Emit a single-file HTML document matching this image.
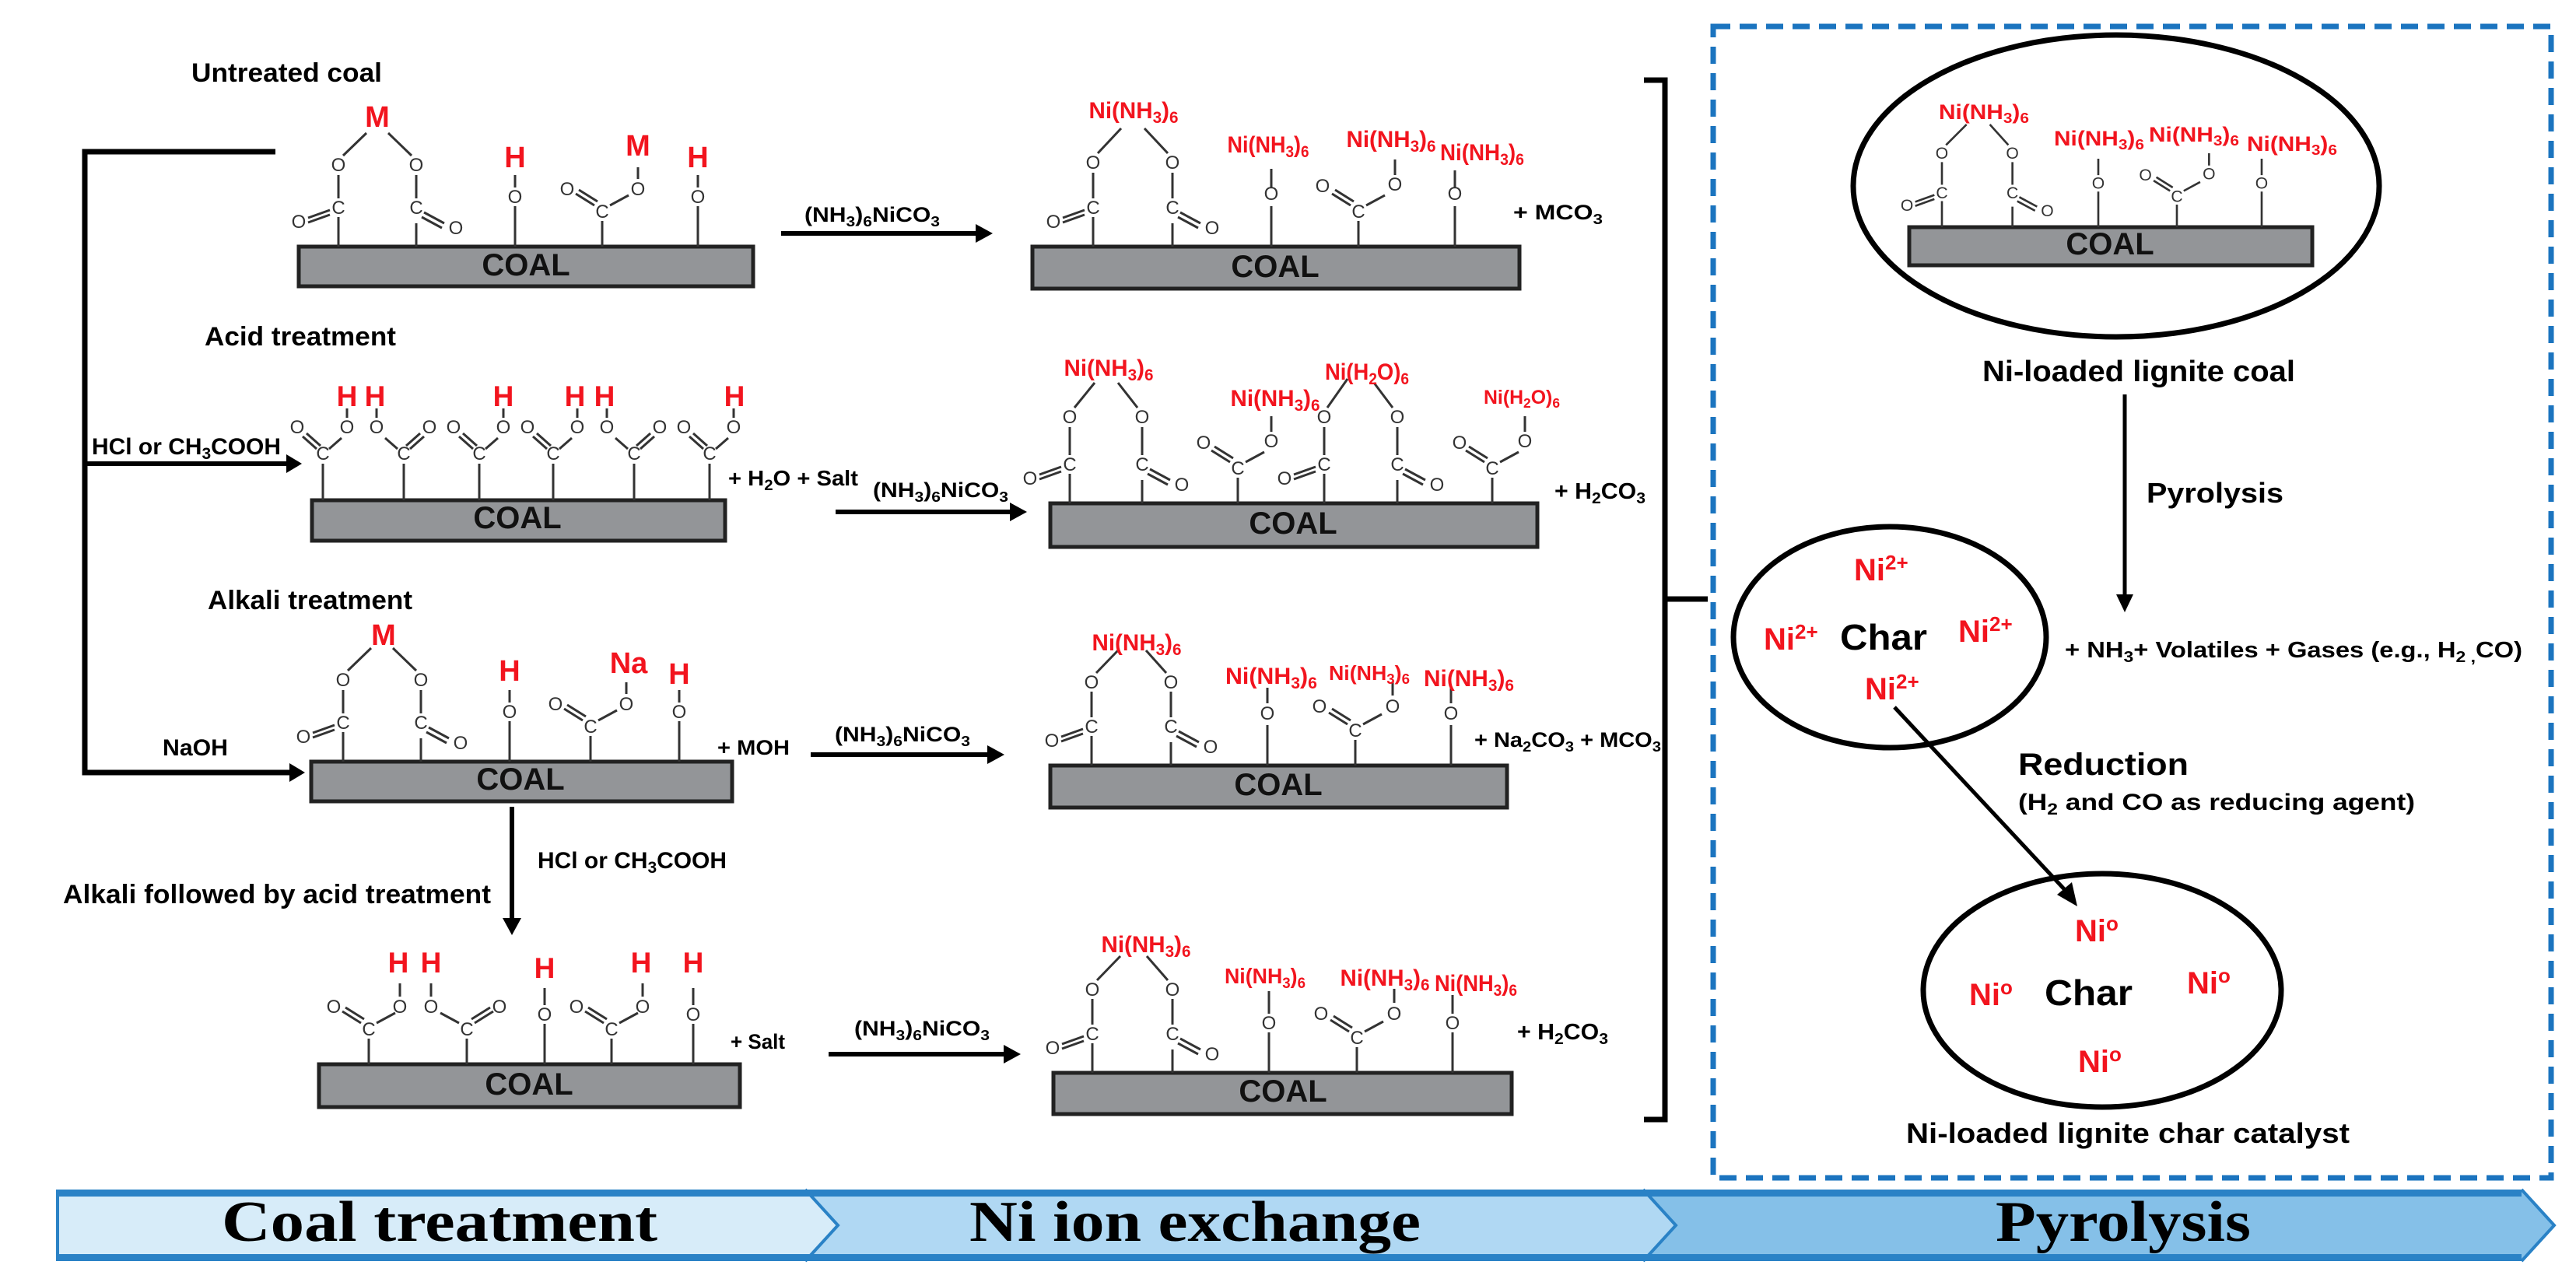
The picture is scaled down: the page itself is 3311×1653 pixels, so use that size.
<!DOCTYPE html>
<html><head><meta charset="utf-8"><style>
html,body{margin:0;padding:0;background:#fff}
svg{display:block}
.f{font-family:"Liberation Sans",sans-serif}
.b{font-family:"Liberation Sans",sans-serif;font-weight:bold}
.oc{font-family:"Liberation Sans",sans-serif;font-size:24px;fill:#333;text-anchor:middle}
.r{fill:#f2141e;font-family:"Liberation Sans",sans-serif;font-weight:bold;text-anchor:middle}
.s{font-size:70%}
.ln{stroke:#333;stroke-width:3;fill:none}
.bar{fill:#939598;stroke:#222;stroke-width:5}
.coal{font-family:"Liberation Sans",sans-serif;font-weight:bold;font-size:40px;text-anchor:middle;fill:#111}
.ser{font-family:"Liberation Serif",serif;font-weight:bold;font-size:74px;fill:#000}
</style></head><body>
<svg width="3311" height="1653" viewBox="0 0 3311 1653" xmlns="http://www.w3.org/2000/svg">
<rect width="3311" height="1653" fill="#fff"/>

<!-- ===== LEFT BRACKET & ARROWS ===== -->
<path d="M354 195H109V993H375" stroke="#000" stroke-width="7" fill="none"/>
<polygon points="392,993 372,981 372,1005" fill="#000"/>
<path d="M109 596H370" stroke="#000" stroke-width="6" fill="none"/>
<polygon points="388,596 368,584 368,608" fill="#000"/>
<path d="M658 1037V1182" stroke="#000" stroke-width="6"/>
<polygon points="658,1202 646,1180 670,1180" fill="#000"/>

<!-- left labels -->
<text class="b" x="246" y="105" font-size="34" textLength="245" lengthAdjust="spacingAndGlyphs">Untreated coal</text>
<text class="b" x="263" y="444" font-size="34" textLength="246" lengthAdjust="spacingAndGlyphs">Acid treatment</text>
<text class="b" x="267" y="783" font-size="34" textLength="263" lengthAdjust="spacingAndGlyphs">Alkali treatment</text>
<text class="b" x="81" y="1161" font-size="34" textLength="550" lengthAdjust="spacingAndGlyphs">Alkali followed by acid treatment</text>
<text class="b" x="118" y="584" font-size="30" textLength="243" lengthAdjust="spacingAndGlyphs">HCl or CH<tspan class="s" dy="6">3</tspan><tspan dy="-6">COOH</tspan></text>
<text class="b" x="209" y="971" font-size="30" textLength="84" lengthAdjust="spacingAndGlyphs">NaOH</text>
<text class="b" x="691" y="1116" font-size="30" textLength="243" lengthAdjust="spacingAndGlyphs">HCl or CH<tspan class="s" dy="6">3</tspan><tspan dy="-6">COOH</tspan></text>

<!-- ===== ROW 1 LEFT ===== -->
<rect class="bar" x="384" y="317" width="584" height="51"/>
<text class="coal" x="676" y="354">COAL</text>
<g transform="translate(435,317)"><path class="ln" d="M0 0V-38M0 -62V-92M6 -117L36 -146M100 0V-30M100 -62V-92M94 -117L64 -146M-11 -47L-39 -37M-11 -41L-39 -31M110 -44L136 -30M107 -38L133 -24"/><text class="oc" x="0" y="-42">C</text><text class="oc" x="100" y="-42">C</text><text class="oc" x="0" y="-97">O</text><text class="oc" x="100" y="-97">O</text><text class="oc" x="-51" y="-24">O</text><text class="oc" x="151" y="-16">O</text></g>
<text class="r" x="485" y="163" font-size="38">M</text>
<g transform="translate(662,317)"><path class="ln" d="M0 0V-52M0 -76V-92"/><text class="oc" x="0" y="-56">O</text></g>
<text class="r" x="662" y="215" font-size="38">H</text>
<g transform="translate(774,317)"><path class="ln" d="M0 0V-33M-10 -53L-34 -68M-6 -58L-30 -73M10 -53L34 -66M46 -87V-102"/><text class="oc" x="0" y="-37">C</text><text class="oc" x="-45" y="-66">O</text><text class="oc" x="46" y="-66">O</text></g>
<text class="r" x="820" y="200" font-size="38">M</text>
<g transform="translate(897,317)"><path class="ln" d="M0 0V-52M0 -76V-92"/><text class="oc" x="0" y="-56">O</text></g>
<text class="r" x="897" y="215" font-size="38">H</text>

<!-- ===== ROW 2 LEFT (acid) ===== -->
<rect class="bar" x="401" y="643" width="531" height="52"/>
<text class="coal" x="665" y="679">COAL</text>
<g transform="translate(415,643)"><path class="ln" d="M0 0V-47M-8 -66L-26 -82M-3 -70L-21 -86M8 -66L24 -80M31 -106V-118"/><text class="oc" x="0" y="-52" font-size="21">C</text><text class="oc" x="-33" y="-86">O</text><text class="oc" x="31" y="-86">O</text></g>
<text class="r" x="446" y="522" font-size="37">H</text>
<g transform="translate(519,643)"><path class="ln" d="M0 0V-47M8 -66L26 -82M3 -70L21 -86M-8 -66L-24 -80M-35 -106V-118"/><text class="oc" x="0" y="-52" font-size="21">C</text><text class="oc" x="33" y="-86">O</text><text class="oc" x="-35" y="-86">O</text></g>
<text class="r" x="482" y="522" font-size="37">H</text>
<g transform="translate(616,643)"><path class="ln" d="M0 0V-47M-8 -66L-26 -82M-3 -70L-21 -86M8 -66L24 -80M31 -106V-118"/><text class="oc" x="0" y="-52" font-size="21">C</text><text class="oc" x="-33" y="-86">O</text><text class="oc" x="31" y="-86">O</text></g>
<text class="r" x="647" y="522" font-size="37">H</text>
<g transform="translate(711,643)"><path class="ln" d="M0 0V-47M-8 -66L-26 -82M-3 -70L-21 -86M8 -66L24 -80M31 -106V-118"/><text class="oc" x="0" y="-52" font-size="21">C</text><text class="oc" x="-33" y="-86">O</text><text class="oc" x="31" y="-86">O</text></g>
<text class="r" x="739" y="522" font-size="37">H</text>
<g transform="translate(815,643)"><path class="ln" d="M0 0V-47M8 -66L26 -82M3 -70L21 -86M-8 -66L-24 -80M-35 -106V-118"/><text class="oc" x="0" y="-52" font-size="21">C</text><text class="oc" x="33" y="-86">O</text><text class="oc" x="-35" y="-86">O</text></g>
<text class="r" x="777" y="522" font-size="37">H</text>
<g transform="translate(912,643)"><path class="ln" d="M0 0V-47M-8 -66L-26 -82M-3 -70L-21 -86M8 -66L24 -80M31 -106V-118"/><text class="oc" x="0" y="-52" font-size="21">C</text><text class="oc" x="-33" y="-86">O</text><text class="oc" x="31" y="-86">O</text></g>
<text class="r" x="944" y="522" font-size="37">H</text>
<text class="b" x="936" y="624" font-size="28" textLength="167" lengthAdjust="spacingAndGlyphs">+ H<tspan class="s" dy="6">2</tspan><tspan dy="-6">O  + Salt</tspan></text>

<!-- ===== ROW 3 LEFT (alkali) ===== -->
<rect class="bar" x="400" y="979" width="541" height="51"/>
<text class="coal" x="669" y="1015">COAL</text>
<g transform="translate(441,979)"><path class="ln" d="M0 0V-38M0 -62V-92M6 -117L36 -146M100 0V-30M100 -62V-92M94 -117L64 -146M-11 -47L-39 -37M-11 -41L-39 -31M110 -44L136 -30M107 -38L133 -24"/><text class="oc" x="0" y="-42">C</text><text class="oc" x="100" y="-42">C</text><text class="oc" x="0" y="-97">O</text><text class="oc" x="100" y="-97">O</text><text class="oc" x="-51" y="-24">O</text><text class="oc" x="151" y="-16">O</text></g>
<text class="r" x="493" y="829" font-size="38">M</text>
<g transform="translate(655,979)"><path class="ln" d="M0 0V-52M0 -76V-92"/><text class="oc" x="0" y="-56">O</text></g>
<text class="r" x="655" y="875" font-size="38">H</text>
<g transform="translate(759,979)"><path class="ln" d="M0 0V-33M-10 -53L-34 -68M-6 -58L-30 -73M10 -53L34 -66M46 -87V-102"/><text class="oc" x="0" y="-37">C</text><text class="oc" x="-45" y="-66">O</text><text class="oc" x="46" y="-66">O</text></g>
<text class="r" x="808" y="865" font-size="38">Na</text>
<g transform="translate(873,979)"><path class="ln" d="M0 0V-52M0 -76V-92"/><text class="oc" x="0" y="-56">O</text></g>
<text class="r" x="873" y="879" font-size="38">H</text>
<text class="b" x="922" y="970" font-size="27" textLength="93" lengthAdjust="spacingAndGlyphs">+  MOH</text>

<!-- ===== ROW 4 LEFT ===== -->
<rect class="bar" x="410" y="1368" width="541" height="55"/>
<text class="coal" x="680" y="1407">COAL</text>
<g transform="translate(474,1368)"><path class="ln" d="M0 0V-33M-10 -53L-34 -68M-6 -58L-30 -73M10 -53L34 -66M40 -87V-104"/><text class="oc" x="0" y="-37">C</text><text class="oc" x="-45" y="-66">O</text><text class="oc" x="40" y="-66">O</text></g>
<text class="r" x="512" y="1250" font-size="37">H</text>
<g transform="translate(600,1368)"><path class="ln" d="M0 0V-33M10 -53L34 -68M6 -58L30 -73M-10 -53L-34 -66M-46 -87V-104"/><text class="oc" x="0" y="-37">C</text><text class="oc" x="42" y="-66">O</text><text class="oc" x="-46" y="-66">O</text></g>
<text class="r" x="554" y="1250" font-size="37">H</text>
<g transform="translate(700,1368)"><path class="ln" d="M0 0V-52M0 -76V-98"/><text class="oc" x="0" y="-56">O</text></g>
<text class="r" x="700" y="1257" font-size="37">H</text>
<g transform="translate(786,1368)"><path class="ln" d="M0 0V-33M-10 -53L-34 -68M-6 -58L-30 -73M10 -53L34 -66M40 -87V-104"/><text class="oc" x="0" y="-37">C</text><text class="oc" x="-45" y="-66">O</text><text class="oc" x="40" y="-66">O</text></g>
<text class="r" x="824" y="1250" font-size="37">H</text>
<g transform="translate(891,1368)"><path class="ln" d="M0 0V-52M0 -76V-98"/><text class="oc" x="0" y="-56">O</text></g>
<text class="r" x="891" y="1250" font-size="37">H</text>
<text class="b" x="939" y="1348" font-size="27" textLength="70" lengthAdjust="spacingAndGlyphs">+ Salt</text>

<!-- ===== MIDDLE ARROWS ===== -->
<path d="M1004 300H1256" stroke="#000" stroke-width="6"/><polygon points="1276,300 1254,288 1254,312" fill="#000"/>
<text class="b" x="1034" y="285" font-size="27" textLength="174" lengthAdjust="spacingAndGlyphs">(NH<tspan class="s" dy="6">3</tspan><tspan dy="-6">)</tspan><tspan class="s" dy="6">6</tspan><tspan dy="-6">NiCO</tspan><tspan class="s" dy="6">3</tspan></text>
<path d="M1074 658H1300" stroke="#000" stroke-width="6"/><polygon points="1320,658 1298,646 1298,670" fill="#000"/>
<text class="b" x="1122" y="639" font-size="27" textLength="174" lengthAdjust="spacingAndGlyphs">(NH<tspan class="s" dy="6">3</tspan><tspan dy="-6">)</tspan><tspan class="s" dy="6">6</tspan><tspan dy="-6">NiCO</tspan><tspan class="s" dy="6">3</tspan></text>
<path d="M1042 970H1271" stroke="#000" stroke-width="6"/><polygon points="1291,970 1269,958 1269,982" fill="#000"/>
<text class="b" x="1073" y="953" font-size="27" textLength="174" lengthAdjust="spacingAndGlyphs">(NH<tspan class="s" dy="6">3</tspan><tspan dy="-6">)</tspan><tspan class="s" dy="6">6</tspan><tspan dy="-6">NiCO</tspan><tspan class="s" dy="6">3</tspan></text>
<path d="M1065 1355H1292" stroke="#000" stroke-width="6"/><polygon points="1312,1355 1290,1343 1290,1367" fill="#000"/>
<text class="b" x="1098" y="1331" font-size="27" textLength="174" lengthAdjust="spacingAndGlyphs">(NH<tspan class="s" dy="6">3</tspan><tspan dy="-6">)</tspan><tspan class="s" dy="6">6</tspan><tspan dy="-6">NiCO</tspan><tspan class="s" dy="6">3</tspan></text>

<!-- ===== ROW 1 MIDDLE ===== -->
<rect class="bar" x="1327" y="317" width="626" height="54"/>
<text class="coal" x="1639" y="356">COAL</text>
<g transform="translate(1405,317)"><path class="ln" d="M0 0V-38M0 -62V-95M6 -120L36 -152M102 0V-30M102 -62V-95M96 -120L66 -152M-11 -47L-39 -37M-11 -41L-39 -31M112 -44L138 -30M109 -38L135 -24"/><text class="oc" x="0" y="-42">C</text><text class="oc" x="102" y="-42">C</text><text class="oc" x="0" y="-100">O</text><text class="oc" x="102" y="-100">O</text><text class="oc" x="-51" y="-24">O</text><text class="oc" x="153" y="-16">O</text></g>
<text class="r" x="1457" y="152" font-size="30" font-weight="normal" textLength="115" lengthAdjust="spacingAndGlyphs">Ni(NH<tspan class="s" dy="6">3</tspan><tspan dy="-6">)</tspan><tspan class="s" dy="6">6</tspan></text>
<g transform="translate(1634,317)"><path class="ln" d="M0 0V-52M0 -76V-100"/><text class="oc" x="0" y="-60">O</text></g>
<text class="r" x="1630" y="196" font-size="30" textLength="105" lengthAdjust="spacingAndGlyphs">Ni(NH<tspan class="s" dy="6">3</tspan><tspan dy="-6">)</tspan><tspan class="s" dy="6">6</tspan></text>
<g transform="translate(1746,317)"><path class="ln" d="M0 0V-33M-10 -53L-34 -68M-6 -58L-30 -73M10 -53L34 -66M47 -92V-112"/><text class="oc" x="0" y="-37">C</text><text class="oc" x="-46" y="-70">O</text><text class="oc" x="47" y="-72">O</text></g>
<text class="r" x="1788" y="189" font-size="30" textLength="115" lengthAdjust="spacingAndGlyphs">Ni(NH<tspan class="s" dy="6">3</tspan><tspan dy="-6">)</tspan><tspan class="s" dy="6">6</tspan></text>
<g transform="translate(1870,317)"><path class="ln" d="M0 0V-52M0 -76V-98"/><text class="oc" x="0" y="-60">O</text></g>
<text class="r" x="1905" y="206" font-size="30" textLength="108" lengthAdjust="spacingAndGlyphs">Ni(NH<tspan class="s" dy="6">3</tspan><tspan dy="-6">)</tspan><tspan class="s" dy="6">6</tspan></text>
<text class="b" x="1945" y="282" font-size="27" textLength="115" lengthAdjust="spacingAndGlyphs">+  MCO<tspan class="s" dy="6">3</tspan></text>

<!-- ===== ROW 2 MIDDLE ===== -->
<rect class="bar" x="1350" y="647" width="626" height="56"/>
<text class="coal" x="1662" y="686">COAL</text>
<g transform="translate(1375,647)"><path class="ln" d="M0 0V-38M0 -62V-98M6 -123L32 -155M93 0V-30M93 -62V-98M87 -123L62 -155M-11 -47L-39 -37M-11 -41L-39 -31M103 -44L129 -30M100 -38L126 -24"/><text class="oc" x="0" y="-42">C</text><text class="oc" x="93" y="-42">C</text><text class="oc" x="0" y="-103">O</text><text class="oc" x="93" y="-103">O</text><text class="oc" x="-51" y="-24">O</text><text class="oc" x="144" y="-16">O</text></g>
<text class="r" x="1425" y="483" font-size="30" textLength="115" lengthAdjust="spacingAndGlyphs">Ni(NH<tspan class="s" dy="6">3</tspan><tspan dy="-6">)</tspan><tspan class="s" dy="6">6</tspan></text>
<g transform="translate(1591,647)"><path class="ln" d="M0 0V-33M-10 -53L-34 -68M-6 -58L-30 -73M10 -53L34 -66M43 -92V-112"/><text class="oc" x="0" y="-37">C</text><text class="oc" x="-44" y="-70">O</text><text class="oc" x="43" y="-72">O</text></g>
<text class="r" x="1639" y="522" font-size="30" textLength="115" lengthAdjust="spacingAndGlyphs">Ni(NH<tspan class="s" dy="6">3</tspan><tspan dy="-6">)</tspan><tspan class="s" dy="6">6</tspan></text>
<g transform="translate(1702,647)"><path class="ln" d="M0 0V-38M0 -62V-98M4 -123L30 -160M94 0V-30M94 -62V-98M88 -123L64 -155M-11 -47L-39 -37M-11 -41L-39 -31M104 -44L130 -30M101 -38L127 -24"/><text class="oc" x="0" y="-42">C</text><text class="oc" x="94" y="-42">C</text><text class="oc" x="0" y="-103">O</text><text class="oc" x="94" y="-103">O</text><text class="oc" x="-51" y="-24">O</text><text class="oc" x="145" y="-16">O</text></g>
<text class="r" x="1757" y="488" font-size="30" textLength="108" lengthAdjust="spacingAndGlyphs">Ni(H<tspan class="s" dy="6">2</tspan><tspan dy="-6">O)</tspan><tspan class="s" dy="6">6</tspan></text>
<g transform="translate(1918,647)"><path class="ln" d="M0 0V-33M-10 -53L-34 -68M-6 -58L-30 -73M10 -53L34 -66M42 -92V-112"/><text class="oc" x="0" y="-37">C</text><text class="oc" x="-42" y="-70">O</text><text class="oc" x="42" y="-72">O</text></g>
<text class="r" x="1956" y="519" font-size="25" textLength="98" lengthAdjust="spacingAndGlyphs">Ni(H<tspan class="s" dy="5">2</tspan><tspan dy="-5">O)</tspan><tspan class="s" dy="5">6</tspan></text>
<text class="b" x="1998" y="641" font-size="29" textLength="117" lengthAdjust="spacingAndGlyphs">+ H<tspan class="s" dy="6">2</tspan><tspan dy="-6">CO</tspan><tspan class="s" dy="6">3</tspan></text>

<!-- ===== ROW 3 MIDDLE ===== -->
<rect class="bar" x="1350" y="984" width="587" height="54"/>
<text class="coal" x="1643" y="1022">COAL</text>
<g transform="translate(1403,984)"><path class="ln" d="M0 0V-38M0 -62V-95M6 -119L34 -148M102 0V-30M102 -62V-95M96 -119L70 -148M-11 -47L-39 -37M-11 -41L-39 -31M112 -44L138 -30M109 -38L135 -24"/><text class="oc" x="0" y="-42">C</text><text class="oc" x="102" y="-42">C</text><text class="oc" x="0" y="-99">O</text><text class="oc" x="102" y="-99">O</text><text class="oc" x="-51" y="-24">O</text><text class="oc" x="153" y="-16">O</text></g>
<text class="r" x="1461" y="836" font-size="30" textLength="115" lengthAdjust="spacingAndGlyphs">Ni(NH<tspan class="s" dy="6">3</tspan><tspan dy="-6">)</tspan><tspan class="s" dy="6">6</tspan></text>
<g transform="translate(1629,984)"><path class="ln" d="M0 0V-52M0 -80V-100"/><text class="oc" x="0" y="-59">O</text></g>
<text class="r" x="1634" y="879" font-size="30" textLength="118" lengthAdjust="spacingAndGlyphs">Ni(NH<tspan class="s" dy="6">3</tspan><tspan dy="-6">)</tspan><tspan class="s" dy="6">6</tspan></text>
<g transform="translate(1742,984)"><path class="ln" d="M0 0V-33M-10 -53L-34 -68M-6 -58L-30 -73M10 -53L34 -66M48 -90V-108"/><text class="oc" x="0" y="-37">C</text><text class="oc" x="-46" y="-68">O</text><text class="oc" x="48" y="-68">O</text></g>
<text class="r" x="1760" y="874" font-size="26" textLength="104" lengthAdjust="spacingAndGlyphs">Ni(NH<tspan class="s" dy="5">3</tspan><tspan dy="-5">)</tspan><tspan class="s" dy="5">6</tspan></text>
<g transform="translate(1865,984)"><path class="ln" d="M0 0V-52M0 -80V-100"/><text class="oc" x="0" y="-59">O</text></g>
<text class="r" x="1888" y="882" font-size="30" textLength="116" lengthAdjust="spacingAndGlyphs">Ni(NH<tspan class="s" dy="6">3</tspan><tspan dy="-6">)</tspan><tspan class="s" dy="6">6</tspan></text>
<text class="b" x="1895" y="960" font-size="27" textLength="240" lengthAdjust="spacingAndGlyphs">+ Na<tspan class="s" dy="6">2</tspan><tspan dy="-6">CO</tspan><tspan class="s" dy="6">3</tspan><tspan dy="-6"> + MCO</tspan><tspan class="s" dy="6">3</tspan></text>

<!-- ===== ROW 4 MIDDLE ===== -->
<rect class="bar" x="1354" y="1379" width="589" height="53"/>
<text class="coal" x="1649" y="1416">COAL</text>
<g transform="translate(1404,1379)"><path class="ln" d="M0 0V-38M0 -62V-95M6 -119L36 -150M103 0V-30M103 -62V-95M97 -119L70 -150M-11 -47L-39 -37M-11 -41L-39 -31M113 -44L139 -30M110 -38L136 -24"/><text class="oc" x="0" y="-42">C</text><text class="oc" x="103" y="-42">C</text><text class="oc" x="0" y="-99">O</text><text class="oc" x="103" y="-99">O</text><text class="oc" x="-51" y="-24">O</text><text class="oc" x="154" y="-16">O</text></g>
<text class="r" x="1473" y="1224" font-size="30" textLength="115" lengthAdjust="spacingAndGlyphs">Ni(NH<tspan class="s" dy="6">3</tspan><tspan dy="-6">)</tspan><tspan class="s" dy="6">6</tspan></text>
<g transform="translate(1631,1379)"><path class="ln" d="M0 0V-52M0 -76V-105"/><text class="oc" x="0" y="-56">O</text></g>
<text class="r" x="1626" y="1264" font-size="28" textLength="104" lengthAdjust="spacingAndGlyphs">Ni(NH<tspan class="s" dy="6">3</tspan><tspan dy="-6">)</tspan><tspan class="s" dy="6">6</tspan></text>
<g transform="translate(1744,1379)"><path class="ln" d="M0 0V-33M-10 -53L-34 -68M-6 -58L-30 -73M10 -53L34 -66M48 -90V-108"/><text class="oc" x="0" y="-37">C</text><text class="oc" x="-46" y="-68">O</text><text class="oc" x="48" y="-68">O</text></g>
<text class="r" x="1780" y="1267" font-size="30" textLength="115" lengthAdjust="spacingAndGlyphs">Ni(NH<tspan class="s" dy="6">3</tspan><tspan dy="-6">)</tspan><tspan class="s" dy="6">6</tspan></text>
<g transform="translate(1867,1379)"><path class="ln" d="M0 0V-52M0 -76V-100"/><text class="oc" x="0" y="-56">O</text></g>
<text class="r" x="1897" y="1274" font-size="30" textLength="106" lengthAdjust="spacingAndGlyphs">Ni(NH<tspan class="s" dy="6">3</tspan><tspan dy="-6">)</tspan><tspan class="s" dy="6">6</tspan></text>
<text class="b" x="1950" y="1336" font-size="29" textLength="117" lengthAdjust="spacingAndGlyphs">+ H<tspan class="s" dy="6">2</tspan><tspan dy="-6">CO</tspan><tspan class="s" dy="6">3</tspan></text>

<!-- ===== RIGHT BRACKET ===== -->
<path d="M2113 103H2140V1439H2113M2140 770H2195" stroke="#000" stroke-width="7" fill="none"/>

<!-- ===== DASHED BOX ===== -->
<rect x="2202" y="34" width="1077" height="1480" fill="none" stroke="#1b74bf" stroke-width="7" stroke-dasharray="22 12"/>

<!-- top ellipse -->
<ellipse cx="2720" cy="239" rx="338" ry="194" fill="none" stroke="#000" stroke-width="7"/>
<rect class="bar" x="2454" y="292" width="518" height="49"/>
<text class="coal" x="2712" y="327" font-size="36">COAL</text>
<g transform="translate(2496,292) scale(0.88)"><path class="ln" d="M0 0V-38M0 -62V-95M6 -120L36 -150M103 0V-30M103 -62V-95M97 -120L70 -150M-11 -47L-39 -37M-11 -41L-39 -31M113 -44L139 -30M110 -38L136 -24"/><text class="oc" x="0" y="-42">C</text><text class="oc" x="103" y="-42">C</text><text class="oc" x="0" y="-100">O</text><text class="oc" x="103" y="-100">O</text><text class="oc" x="-51" y="-24">O</text><text class="oc" x="154" y="-16">O</text></g>
<text class="r" x="2550" y="153" font-size="27" textLength="116" lengthAdjust="spacingAndGlyphs">Ni(NH<tspan class="s" dy="5">3</tspan><tspan dy="-5">)</tspan><tspan class="s" dy="5">6</tspan></text>
<g transform="translate(2697,292) scale(0.88)"><path class="ln" d="M0 0V-52M0 -76V-100"/><text class="oc" x="0" y="-56">O</text></g>
<text class="r" x="2698" y="187" font-size="27" textLength="116" lengthAdjust="spacingAndGlyphs">Ni(NH<tspan class="s" dy="5">3</tspan><tspan dy="-5">)</tspan><tspan class="s" dy="5">6</tspan></text>
<g transform="translate(2798,292) scale(0.88)"><path class="ln" d="M0 0V-33M-10 -53L-34 -68M-6 -58L-30 -73M10 -53L34 -66M47 -90V-108"/><text class="oc" x="0" y="-37">C</text><text class="oc" x="-46" y="-68">O</text><text class="oc" x="47" y="-70">O</text></g>
<text class="r" x="2820" y="182" font-size="27" textLength="116" lengthAdjust="spacingAndGlyphs">Ni(NH<tspan class="s" dy="5">3</tspan><tspan dy="-5">)</tspan><tspan class="s" dy="5">6</tspan></text>
<g transform="translate(2907,292) scale(0.88)"><path class="ln" d="M0 0V-52M0 -76V-100"/><text class="oc" x="0" y="-56">O</text></g>
<text class="r" x="2946" y="194" font-size="27" textLength="116" lengthAdjust="spacingAndGlyphs">Ni(NH<tspan class="s" dy="5">3</tspan><tspan dy="-5">)</tspan><tspan class="s" dy="5">6</tspan></text>

<text class="b" x="2548" y="490" font-size="38" textLength="402" lengthAdjust="spacingAndGlyphs">Ni-loaded lignite coal</text>
<path d="M2731 507V764" stroke="#000" stroke-width="5"/><polygon points="2731,787 2720,764 2742,764" fill="#000"/>
<text class="b" x="2759" y="646" font-size="36" textLength="176" lengthAdjust="spacingAndGlyphs">Pyrolysis</text>

<!-- Ni2+ char ellipse -->
<ellipse cx="2429" cy="819" rx="201" ry="142" fill="none" stroke="#000" stroke-width="7"/>
<text class="b" x="2383" y="746" font-size="40" fill="#f2141e">Ni<tspan font-size="26" dy="-14">2+</tspan></text>
<text class="b" x="2267" y="835" font-size="40" fill="#f2141e">Ni<tspan font-size="26" dy="-14">2+</tspan></text>
<text class="b" x="2365" y="835" font-size="46" textLength="112" lengthAdjust="spacingAndGlyphs">Char</text>
<text class="b" x="2517" y="825" font-size="40" fill="#f2141e">Ni<tspan font-size="26" dy="-14">2+</tspan></text>
<text class="b" x="2397" y="899" font-size="40" fill="#f2141e">Ni<tspan font-size="26" dy="-14">2+</tspan></text>
<text class="b" x="2654" y="845" font-size="29" textLength="588" lengthAdjust="spacingAndGlyphs">+ NH<tspan class="s" dy="6">3</tspan><tspan dy="-6">+ Volatiles + Gases (e.g., H</tspan><tspan class="s" dy="6">2 ,</tspan><tspan dy="-6">CO)</tspan></text>

<!-- reduction arrow -->
<path d="M2435 909L2657 1147" stroke="#000" stroke-width="5"/>
<polygon points="2670,1165 2644,1150 2663,1134" fill="#000"/>
<text class="b" x="2594" y="996" font-size="40" textLength="219" lengthAdjust="spacingAndGlyphs">Reduction</text>
<text class="b" x="2594" y="1041" font-size="30" textLength="510" lengthAdjust="spacingAndGlyphs">(H<tspan class="s" dy="6">2</tspan><tspan dy="-6"> and CO as reducing agent)</tspan></text>

<!-- Ni0 char ellipse -->
<ellipse cx="2702" cy="1273" rx="230" ry="150" fill="none" stroke="#000" stroke-width="7"/>
<text class="b" x="2667" y="1210" font-size="40" fill="#f2141e">Ni<tspan font-size="26" dy="-14">o</tspan></text>
<text class="b" x="2531" y="1292" font-size="40" fill="#f2141e">Ni<tspan font-size="26" dy="-14">o</tspan></text>
<text class="b" x="2628" y="1292" font-size="46" textLength="113" lengthAdjust="spacingAndGlyphs">Char</text>
<text class="b" x="2811" y="1277" font-size="40" fill="#f2141e">Ni<tspan font-size="26" dy="-14">o</tspan></text>
<text class="b" x="2671" y="1378" font-size="40" fill="#f2141e">Ni<tspan font-size="26" dy="-14">o</tspan></text>
<text class="b" x="2450" y="1469" font-size="36" textLength="570" lengthAdjust="spacingAndGlyphs">Ni-loaded lignite char catalyst</text>

<!-- ===== BOTTOM BANNER ===== -->
<polygon points="74,1529 1035,1529 1077,1575 1035,1621 74,1621" fill="#d7ecf9"/>
<polygon points="1035,1529 2112,1529 2154,1575 2112,1621 1035,1621 1077,1575" fill="#b0d8f3"/>
<polygon points="2112,1529 3241,1529 3283,1575 3241,1621 2112,1621 2154,1575" fill="#85c0e8"/>
<rect x="74" y="1529" width="3167" height="9" fill="#2a82c6"/>
<rect x="74" y="1612" width="3167" height="9" fill="#2a82c6"/>
<path d="M1035 1529L1077 1575L1035 1621M2112 1529L2154 1575L2112 1621M3241 1529L3283 1575L3241 1621M74 1529V1621" stroke="#2a82c6" stroke-width="4" fill="none"/>
<text class="ser" x="285" y="1595" textLength="560" lengthAdjust="spacingAndGlyphs">Coal treatment</text>
<text class="ser" x="1246" y="1595" textLength="580" lengthAdjust="spacingAndGlyphs">Ni ion exchange</text>
<text class="ser" x="2565" y="1595" textLength="328" lengthAdjust="spacingAndGlyphs">Pyrolysis</text>
</svg>
</body></html>
